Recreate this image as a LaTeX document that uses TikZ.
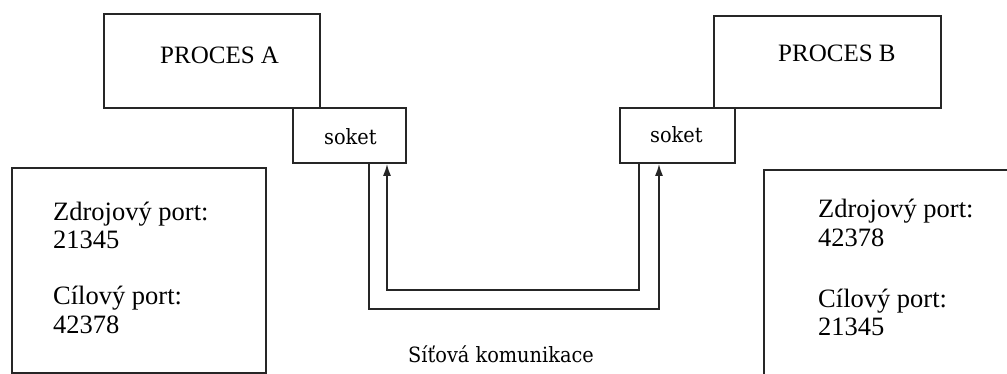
\documentclass[tikz,border=0pt]{standalone}
\usepackage{fontspec}
\setmainfont{Liberation Serif}
\newfontfamily\sockfont{DejaVu Serif}[FakeStretch=0.92]
\usetikzlibrary{arrows.meta,calc}

\tikzset{
  box/.style={draw=black!85, line width=1.8pt, rectangle, inner sep=0pt, anchor=north west},
  txt/.style={inner sep=0pt, anchor=base west, text=black},
  proctxt/.style={txt, font=\fontsize{25}{30}\selectfont},
  porttxt/.style={txt, font=\fontsize{26.5}{30}\selectfont},
  socktxt/.style={txt, font=\sockfont\fontsize{21}{25}\selectfont},
  conn/.style={draw=black!85, line width=1.8pt, -{Latex[length=12pt,width=8pt]}}
}

\begin{document}
\begin{tikzpicture}[x=1pt,y=-1pt]
\useasboundingbox (0,0) rectangle (1007,374);
\clip (0,0) rectangle (1007,374);

% processes and their sockets
\node[box, minimum width=216pt, minimum height=94pt] (procA) at (103,13) {};
\node[box, minimum width=113pt, minimum height=55pt] (sockA) at (292,107) {};
\node[box, minimum width=227pt, minimum height=92pt] (procB) at (713,15) {};
\node[box, minimum width=115pt, minimum height=55pt] (sockB) at (619,107) {};

\node[proctxt] (procAtxt) at (160,64) {PROCES A};
\node[proctxt] (procBtxt) at (778,62) {PROCES B};
\node[socktxt] (sockAtxt) at (324,145) {soket};
\node[socktxt] (sockBtxt) at (650,143) {soket};

% port boxes
\node[box, minimum width=254pt, minimum height=205pt] (portsA) at (11,167) {};
\node[box, minimum width=250pt, minimum height=210pt] (portsB) at (763,169) {};

\node[porttxt] (srcA)  at (53,221) {Zdrojový port:};
\node[porttxt] (srcAn) at (53,249) {21345};
\node[porttxt] (dstA)  at (53,304) {Cílový port:};
\node[porttxt] (dstAn) at (53,333) {42378};

\node[porttxt] (srcB)  at (818,218) {Zdrojový port:};
\node[porttxt] (srcBn) at (818,247) {42378};
\node[porttxt] (dstB)  at (818,307) {Cílový port:};
\node[porttxt] (dstBn) at (818,335) {21345};

% network links between the sockets
\draw[conn] ($(sockA.south west)+(77,0)$) -- ++(0,145) -| ($(sockB.south west)+(40,0)$);
\draw[conn] ($(sockB.south west)+(20,0)$) -- ++(0,126) -| ($(sockA.south west)+(95,0)$);

\node[socktxt] (net) at (408,362) {Síťová komunikace};
\end{tikzpicture}
\end{document}
